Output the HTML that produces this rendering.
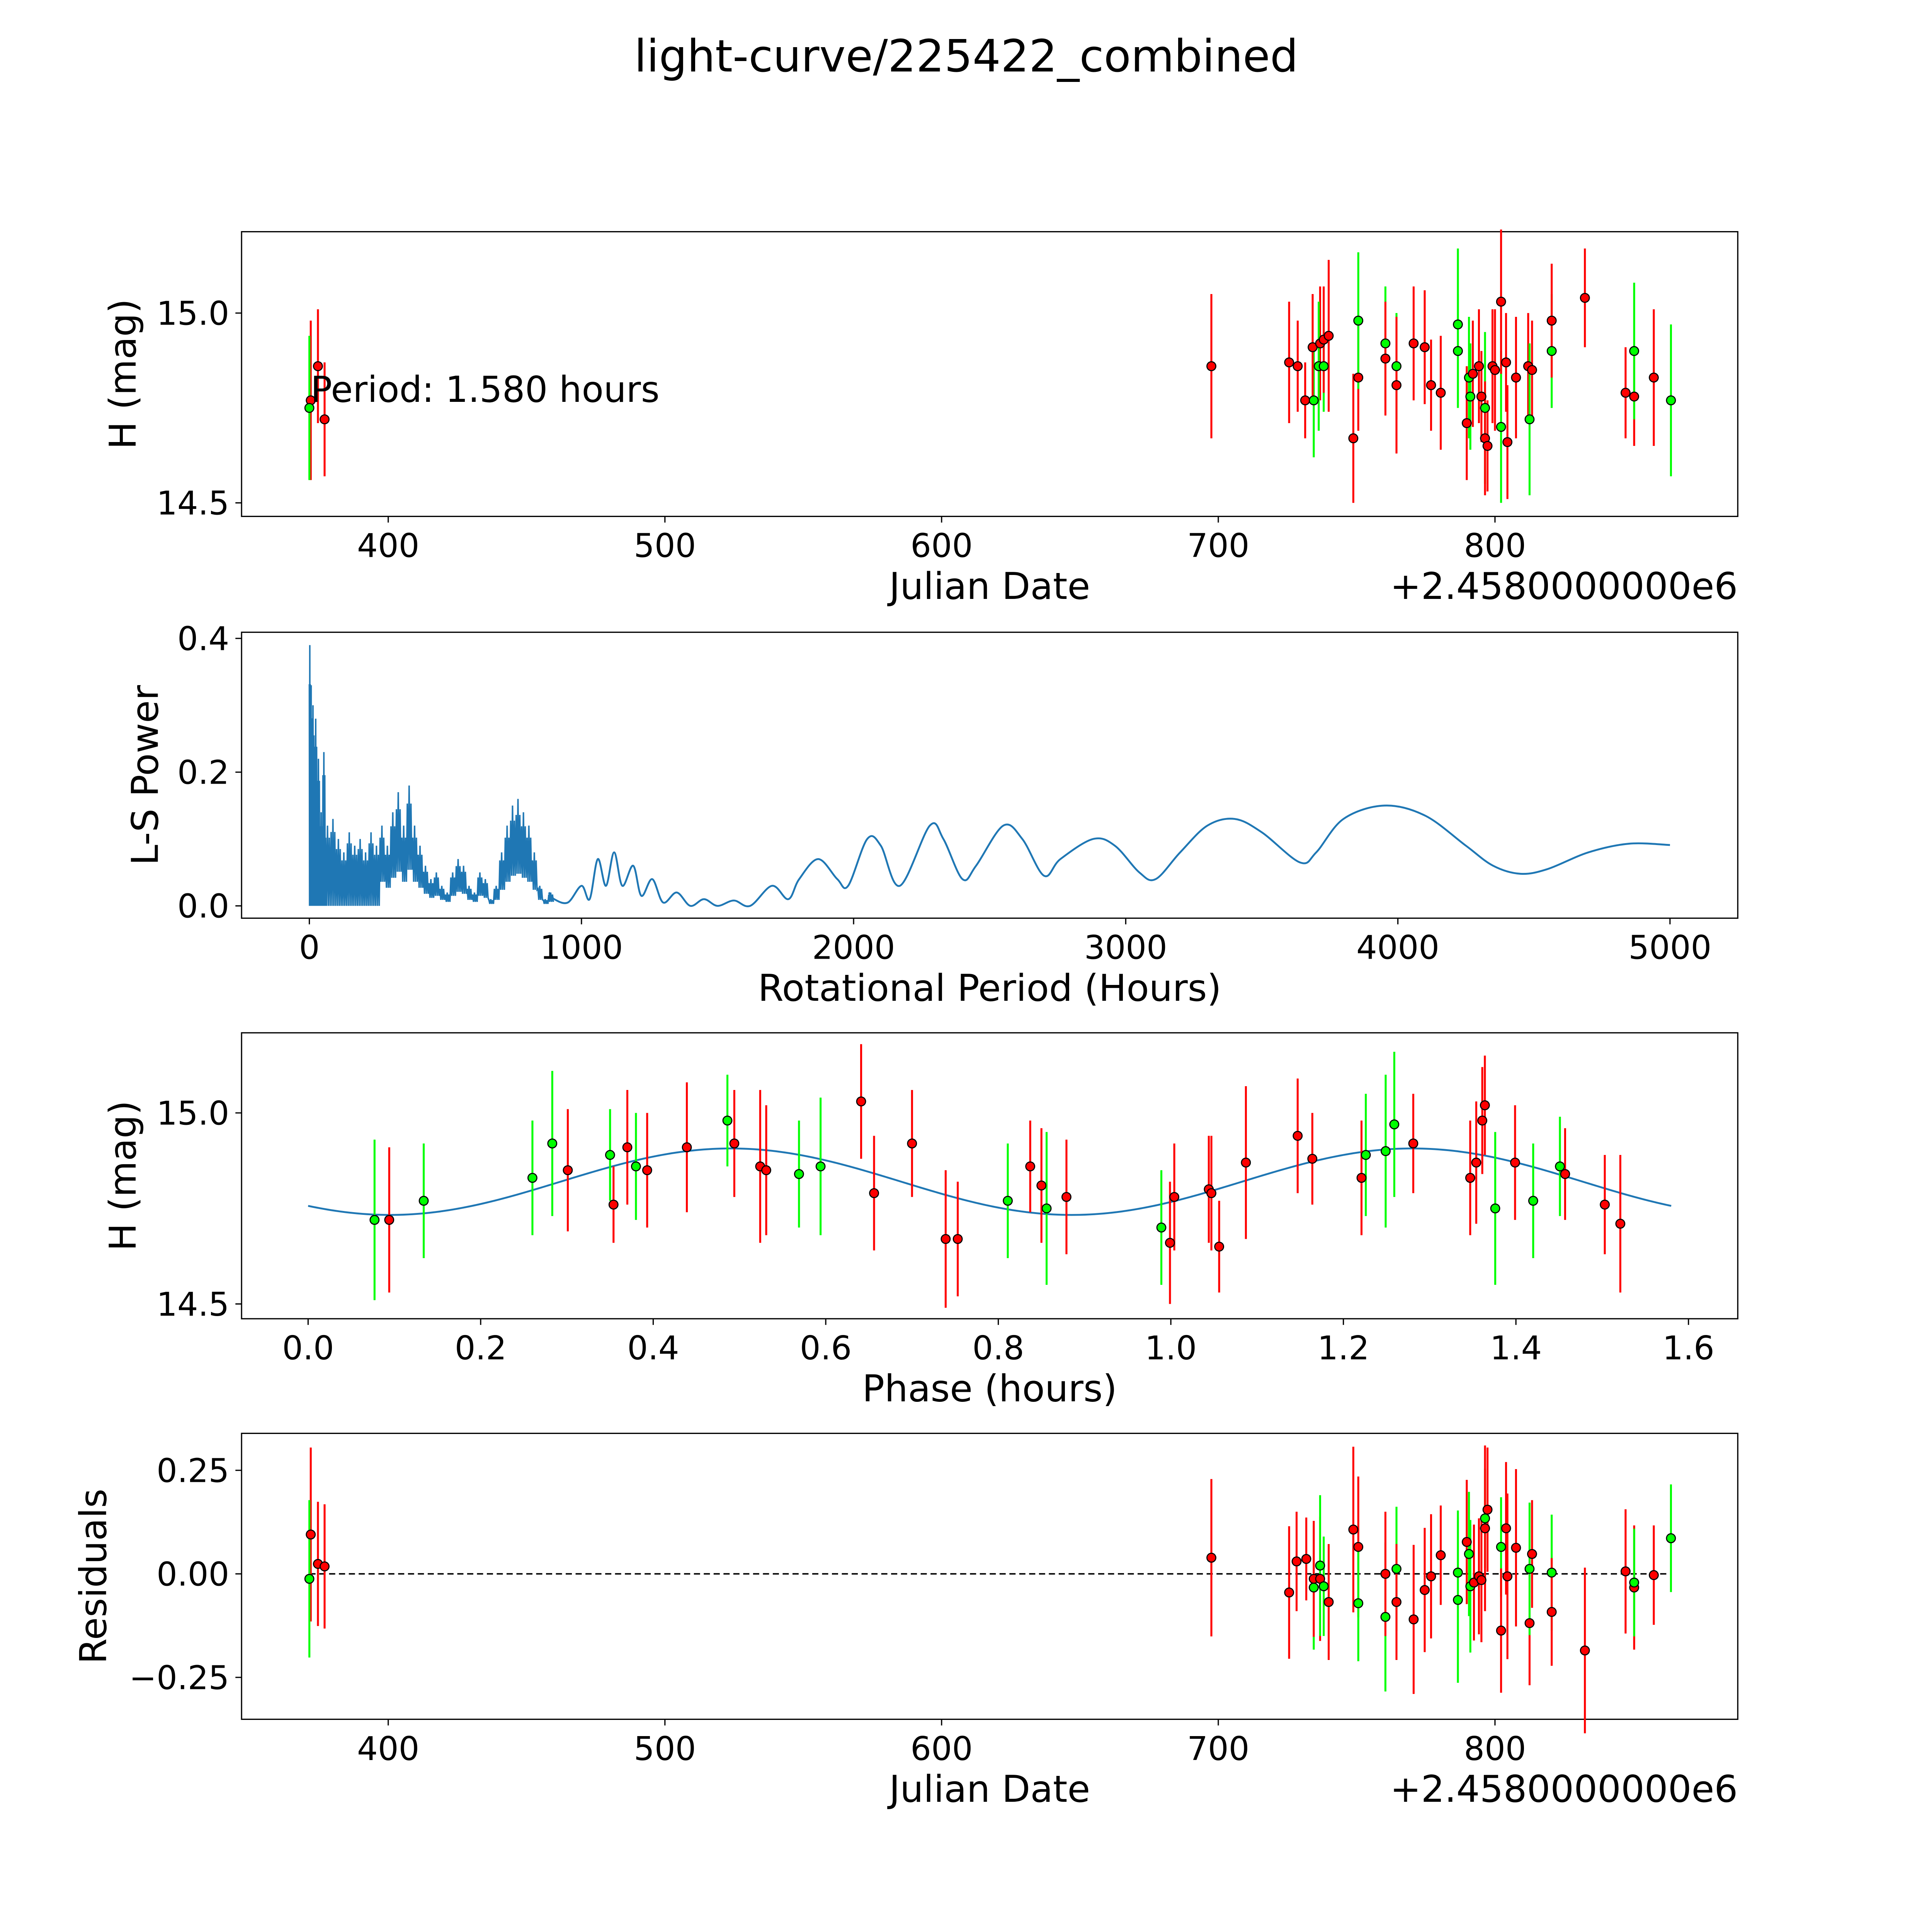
<!DOCTYPE html>
<html><head><meta charset="utf-8">
<style>html,body{margin:0;padding:0;background:#fff;width:5400px;height:5400px;overflow:hidden}svg{display:block}text{font-family:"DejaVu Sans","Liberation Sans",sans-serif;fill:#000}</style>
</head><body>
<svg id="fig" xmlns="http://www.w3.org/2000/svg" width="5400" height="5400" viewBox="0 0 1693 1693" preserveAspectRatio="xMinYMin meet">
<rect width="1693" height="1693" fill="#fff"/>
<text x="784" y="58" font-size="36" text-anchor="middle">light-curve/225422_combined</text>
</svg>
<script>
// ---- Panel 1 data: Julian date offset, magnitude, colour, error ----
const lcJD = [372,371.5,374.6,377,697.5,725.6,728.7,731.4,734.5,734.1,736.8,736.3,738.1,738.1,739.9,748.8,750.6,750.6,760.4,760.4,764.4,764.4,770.6,774.6,776.9,780.4,786.6,786.6,789.8,790.6,791.1,792,794.2,795.1,796.4,796.4,797.3,799.1,800,802.2,802.2,804,804.5,807.6,812,813.4,812.5,820.5,820.5,832.5,847.2,850.3,850.3,857.4,863.6];
const lcMag = [14.77,14.75,14.86,14.72,14.86,14.87,14.86,14.77,14.77,14.91,14.92,14.86,14.86,14.93,14.94,14.67,14.83,14.98,14.92,14.88,14.86,14.81,14.92,14.91,14.81,14.79,14.97,14.90,14.71,14.83,14.78,14.84,14.86,14.78,14.75,14.67,14.65,14.86,14.85,14.70,15.03,14.87,14.66,14.83,14.86,14.85,14.72,14.90,14.98,15.04,14.79,14.78,14.90,14.83,14.77];
const lcColor = ["r","g","r","r","r","r","r","r","g","r","r","g","g","r","r","r","r","g","g","r","g","r","r","r","r","r","g","g","r","g","g","r","r","r","g","r","r","r","r","g","r","r","r","r","r","r","g","g","r","r","r","r","g","r","g"];
const lcErr = [0.21,0.19,0.15,0.15,0.19,0.16,0.12,0.1,0.15,0.14,0.15,0.17,0.12,0.14,0.2,0.17,0.14,0.18,0.15,0.15,0.14,0.18,0.15,0.15,0.12,0.15,0.2,0.15,0.15,0.16,0.14,0.14,0.15,0.12,0.2,0.15,0.12,0.15,0.16,0.2,0.19,0.13,0.15,0.16,0.14,0.13,0.2,0.15,0.15,0.13,0.12,0.13,0.18,0.18,0.2];
// ---- Panel 2 periodogram ----
const lsNoisyPeriod = [0,5,10,20,30,40,50,60,80,100,120,140,160,180,200,220,240,260,280,300,320,340,360,380,400,420,440,460,480,500,520,540,560,580,600,620,640,660,680,700,720,740,760,780,800,820,840,860,880];
const lsNoisyPower = [0.39,0.33,0.30,0.28,0.22,0.14,0.23,0.12,0.13,0.10,0.08,0.11,0.09,0.10,0.08,0.11,0.09,0.12,0.09,0.14,0.17,0.12,0.18,0.12,0.09,0.06,0.04,0.05,0.03,0.02,0.05,0.07,0.06,0.03,0.02,0.05,0.04,0.01,0.03,0.08,0.12,0.15,0.16,0.14,0.12,0.08,0.03,0.01,0.02];
const lsPeriod = [880,900,950,1000,1030,1060,1090,1120,1150,1190,1220,1260,1300,1350,1400,1450,1500,1560,1620,1700,1760,1800,1870,1940,1980,2050,2100,2170,2280,2330,2400,2450,2550,2620,2700,2760,2880,2960,3050,3110,3200,3300,3400,3500,3640,3700,3800,3950,4100,4250,4350,4450,4550,4700,4850,5000];
const lsPower = [0.02,0.01,0.005,0.03,0.01,0.07,0.03,0.08,0.03,0.06,0.015,0.04,0.005,0.02,0.0,0.01,0.0,0.008,0.0,0.03,0.01,0.04,0.07,0.04,0.03,0.1,0.09,0.03,0.12,0.1,0.04,0.06,0.12,0.1,0.045,0.07,0.1,0.09,0.05,0.04,0.08,0.12,0.13,0.11,0.065,0.08,0.13,0.15,0.135,0.09,0.06,0.048,0.055,0.08,0.093,0.091];
// ---- Panel 3 phase-folded ----
const phPhase = [0.077,0.094,0.134,0.26,0.283,0.301,0.35,0.354,0.37,0.38,0.393,0.439,0.486,0.494,0.524,0.531,0.569,0.594,0.641,0.656,0.7,0.739,0.753,0.811,0.837,0.85,0.856,0.879,0.989,0.999,1.004,1.044,1.047,1.056,1.087,1.147,1.164,1.221,1.226,1.249,1.259,1.281,1.347,1.354,1.361,1.364,1.376,1.399,1.42,1.451,1.457,1.503,1.521];
const phMag = [14.72,14.72,14.77,14.83,14.92,14.85,14.89,14.76,14.91,14.86,14.85,14.91,14.98,14.92,14.86,14.85,14.84,14.86,15.03,14.79,14.92,14.67,14.67,14.77,14.86,14.81,14.75,14.78,14.70,14.66,14.78,14.80,14.79,14.65,14.87,14.94,14.88,14.83,14.89,14.90,14.97,14.92,14.83,14.87,14.98,15.02,14.75,14.87,14.77,14.86,14.84,14.76,14.71];
const phColor = ["g","r","g","g","g","r","g","r","r","g","r","r","g","r","r","r","g","g","r","r","r","r","r","g","r","r","g","r","g","r","r","r","r","r","r","r","r","r","g","g","g","r","r","r","r","r","g","r","g","g","r","r","r"];
const fitParams = [14.82, 0.087, 0.49, 0.79, 1.58]; // mean, amplitude, peak phase, wave period, max phase
// ---- Panel 4 residuals ----
const resJD = [372,371.5,374.6,377,697.5,725.6,728.3,731.8,734.5,734.5,736.8,736.8,738.1,739.9,748.8,750.6,750.6,760.4,760.4,764.4,764.4,770.6,774.6,776.9,780.4,786.6,786.6,789.8,790.6,791.1,792.4,794.2,795.1,796.4,796.4,797.3,802.2,802.2,804,804.5,807.6,813.4,812.5,812.5,820.5,820.5,832.5,847.2,850.3,850.3,857.4,863.6];
const resVal = [0.095,-0.012,0.024,0.018,0.039,-0.045,0.03,0.036,-0.033,-0.012,-0.012,0.02,-0.03,-0.068,0.107,0.065,-0.071,-0.104,0.0,0.012,-0.068,-0.11,-0.039,-0.006,0.045,0.003,-0.063,0.077,0.048,-0.03,-0.021,-0.006,-0.015,0.134,0.11,0.155,0.065,-0.137,0.11,-0.006,0.063,0.048,-0.119,0.012,0.003,-0.092,-0.185,0.006,-0.033,-0.021,-0.003,0.086];
const resColor = ["r","g","r","r","r","r","r","r","g","r","r","g","g","r","r","r","g","g","r","g","r","r","r","r","r","g","g","r","g","g","r","r","r","g","r","r","g","r","r","r","r","r","r","g","g","r","r","r","r","g","r","g"];
const jdTicks = [400,500,600,700,800];
const magTicks = [14.5,15.0];
const lsXTicks = [0,1000,2000,3000,4000,5000];
const lsYTicks = [0.0,0.2,0.4];
const phTicks = [0.0,0.2,0.4,0.6,0.8,1.0,1.2,1.4,1.6];
const resTicks = [-0.25,0.00,0.25];

const NS = "http://www.w3.org/2000/svg";
const svg = document.getElementById('fig');
function mk(tag, attrs, parent) { const e = document.createElementNS(NS, tag); for (const k in attrs) e.setAttribute(k, attrs[k]); (parent || svg).appendChild(e); return e; }
function lin(d0, d1, p0, p1) { return v => p0 + (v - d0) * (p1 - p0) / (d1 - d0); }
const COL = { r: "#ff0000", g: "#00ff00" };
const L = 196, R = 1410;

function axes(name, top, bot, xs, ys, xt, yt, xfmt, yfmt, xlabel, ylabel, offset, ylx) {
  const g = mk('g', {});
  
  
  const f = mk('rect', { x: L, y: top, width: R - L, height: bot - top, fill: 'none', stroke: '#000', 'stroke-width': 1 }, g);
  
  
  xt.forEach(v => { const x = xs(v); mk('line', { x1: x, x2: x, y1: bot, y2: bot + 5, stroke: '#000' }, g);
    const t = mk('text', { x: x, y: bot + 33, 'font-size': 26.5, 'text-anchor': 'middle' }, g); t.textContent = xfmt(v);
      });
  yt.forEach(v => { const y = ys(v); mk('line', { x1: L - 5, x2: L, y1: y, y2: y, stroke: '#000' }, g);
    const t = mk('text', { x: L - 10, y: y + 9.5, 'font-size': 26.5, 'text-anchor': 'end' }, g); t.textContent = yfmt(v);
      });
  const xl = mk('text', { x: 803, y: bot + 67, 'font-size': 30, 'text-anchor': 'middle' }, g); xl.textContent = xlabel;
   
  const cy = (top + bot) / 2;
  const yl = mk('text', { x: 0, y: 0, 'font-size': 30, 'text-anchor': 'middle', transform: `translate(${ylx + 10},${cy}) rotate(-90)` }, g); yl.textContent = ylabel;
   
  if (offset) { const o = mk('text', { x: R, y: bot + 67, 'font-size': 30, 'text-anchor': 'end' }, g); o.textContent = '+2.4580000000e6';
      }
  return g;
}
function errPts(g, xsArr, ysArr, cols, errs, xs, ys, nm) {
  xsArr.forEach((xv, i) => { const x = xs(xv), e = errs[i % errs.length];
    const l = mk('line', { x1: x, x2: x, y1: ys(ysArr[i] - e), y2: ys(ysArr[i] + e), stroke: COL[cols[i]], 'stroke-width': 1.6 }, g);
      });
  xsArr.forEach((xv, i) => {
    const c = mk('circle', { cx: xs(xv), cy: ys(ysArr[i]), r: 3.6, fill: COL[cols[i]], stroke: '#000', 'stroke-width': 0.9 }, g);
      });
}
const f1 = v => v.toFixed(1);
const fi = v => String(v);

// Panel 1
const jx = lin(400, 800, 315, 1213);
const m1 = lin(15.0, 14.5, 254, 408);
const g1 = axes('light-curve-panel', 188, 419, jx, m1, jdTicks, magTicks, fi, f1, 'Julian Date', 'H (mag)', true, 100);
errPts(g1, lcJD, lcMag, lcColor, lcErr, jx, m1, 'light-curve');
const pt = mk('text', { x: 252, y: 326, 'font-size': 29 }, g1); pt.textContent = 'Period: 1.580 hours';
 

// Panel 2
const px = lin(0, 5000, 251, 1355);
const py = lin(0, 0.4, 735, 518);
const g2 = axes('periodogram-panel', 513, 745, px, py, lsXTicks, lsYTicks, fi, f1, 'Rotational Period (Hours)', 'L-S Power', false, 118);
let d = '';
lsNoisyPeriod.forEach((p, i) => { const v = lsNoisyPower[i]; const lo = p < 250 ? 0 : v * 0.3;
  const nx = i + 1 < lsNoisyPeriod.length ? lsNoisyPeriod[i + 1] : p + 20;
  for (let k = 0; k < 3; k++) { const pp = p + (nx - p) * k / 3; d += (d ? 'L' : 'M') + px(pp).toFixed(2) + ',' + py(v * (k % 2 ? 1 : 0.85)).toFixed(2) + 'L' + px(pp + (nx - p) / 6).toFixed(2) + ',' + py(lo).toFixed(2); } });
const noisy = mk('path', { d: d, fill: 'none', stroke: '#1f77b4', 'stroke-width': 1.2 }, g2);
 
const P = lsPeriod.map((p, i) => [px(p), py(lsPower[i])]);
let d2 = 'M' + P[0][0] + ',' + P[0][1];
for (let i = 0; i < P.length - 1; i++) { const p0 = P[Math.max(0, i - 1)], p1 = P[i], p2 = P[i + 1], p3 = P[Math.min(P.length - 1, i + 2)];
  d2 += `C${p1[0] + (p2[0] - p0[0]) / 6},${p1[1] + (p2[1] - p0[1]) / 6} ${p2[0] - (p3[0] - p1[0]) / 6},${p2[1] - (p3[1] - p1[1]) / 6} ${p2[0]},${p2[1]}`; }
const smooth = mk('path', { d: d2, fill: 'none', stroke: '#1f77b4', 'stroke-width': 1.5 }, g2);
 

// Panel 3
const fx = lin(0, 1.6, 250, 1370);
const m3 = lin(15.0, 14.5, 903, 1058);
const g3 = axes('phase-folded-panel', 838, 1070, fx, m3, phTicks, magTicks, f1, f1, 'Phase (hours)', 'H (mag)', false, 100);
let d3 = '';
for (let k = 0; k <= 300; k++) { const ph = fitParams[4] * k / 300;
  const m = fitParams[0] + fitParams[1] * Math.cos(2 * Math.PI * (ph - fitParams[2]) / fitParams[3]);
  d3 += (k ? 'L' : 'M') + fx(ph).toFixed(2) + ',' + m3(m).toFixed(2); }
const fit = mk('path', { d: d3, fill: 'none', stroke: '#1f77b4', 'stroke-width': 1.5 }, g3);
 
errPts(g3, phPhase, phMag, phColor, lcErr, fx, m3, 'phase');

// Panel 4
const ry = lin(0, 0.25, 1277, 1193);
const g4 = axes('residuals-panel', 1163, 1395, jx, ry, jdTicks, resTicks, fi, v => (v < 0 ? '\u2212' : '') + Math.abs(v).toFixed(2), 'Julian Date', 'Residuals', true, 76);
const zl = mk('line', { x1: jx(371.5), x2: jx(863.6), y1: ry(0), y2: ry(0), stroke: '#000', 'stroke-width': 1.2, 'stroke-dasharray': '5,3' }, g4);
 
errPts(g4, resJD, resVal, resColor, lcErr, jx, ry, 'residual');
</script>
</body></html>
